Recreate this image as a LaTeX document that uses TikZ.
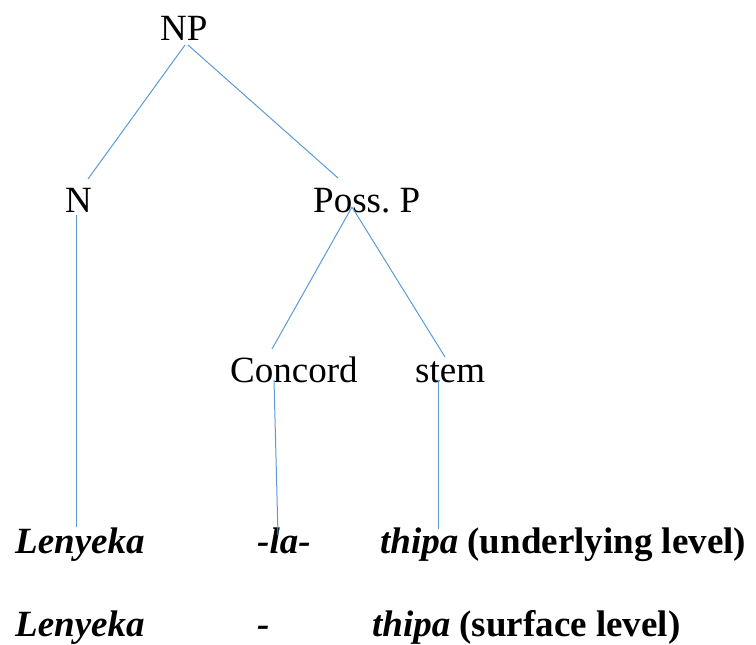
\documentclass[tikz,border=0pt]{standalone}
\usepackage{fontspec}
\setmainfont{Liberation Serif}
\definecolor{edgeblue}{RGB}{91,155,213}
\tikzset{
  lbl/.style={inner sep=0pt, anchor=base west, font=\fontsize{37}{44}\selectfont},
  edge/.style={draw=edgeblue, line width=1pt}
}
\begin{document}
\begin{tikzpicture}[x=1pt,y=-1pt]
\useasboundingbox (0,0) rectangle (756,645);
% tree labels
\node[lbl] (np) at (160,40) {NP};
\node[lbl] (n) at (65,212) {N};
\node[lbl] (possp) at (313,212) {Poss.\ P};
\node[lbl] (conc) at (230,382) {Concord};
\node[lbl] (stem) at (415,382) {stem};
% words
\node[lbl] (w1) at (15,553) {\textbf{\textit{Lenyeka}}};
\node[lbl] (w2) at (257,553) {\textbf{\textit{-la-}}};
\node[lbl] (w3) at (380,553) {\textbf{\textit{thipa}} \textbf{(underlying level)}};
\node[lbl] (s1) at (15,636) {\textbf{\textit{Lenyeka}}};
\node[lbl] (s2) at (257,636) {\textbf{\textit{-}}};
\node[lbl] (s3) at (372,636) {\textbf{\textit{thipa}} \textbf{(surface level)}};
% connector ends
\coordinate (np-l) at (185,45);
\coordinate (np-r) at (188,45);
\coordinate (n-t) at (88,179);
\coordinate (pp-t) at (338,178);
\coordinate (n-b) at (76,215);
\coordinate (w1-t) at (76,527);
\coordinate (pp-b) at (352,207);
\coordinate (conc-t) at (272,349);
\coordinate (stem-t) at (445,357);
\coordinate (conc-b) at (274,380);
\coordinate (w2-t) at (278,535);
\coordinate (stem-b) at (438,380);
\coordinate (w3-t) at (438,529);
% connectors
\draw[edge] (np-l) -- (n-t);
\draw[edge] (np-r) -- (pp-t);
\draw[edge] (n-b) -- (w1-t);
\draw[edge] (pp-b) -- (conc-t);
\draw[edge] (pp-b) -- (stem-t);
\draw[edge] (conc-b) -- (w2-t);
\draw[edge] (stem-b) -- (w3-t);
\end{tikzpicture}
\end{document}
